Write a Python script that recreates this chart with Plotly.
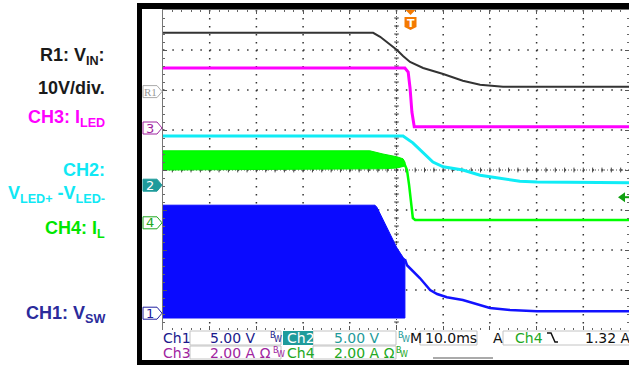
import plotly.graph_objects as go

# ---------------- data (time in ms, 10 ms/div; vertical in screen divisions) ----------------
r1_t = [-50, -5.0, -3.5, -1.4, 0.1, 1.4, 2.9, 5.7, 10.0, 14.2, 17.9, 22.8, 50]
r1_v = [3.43, 3.43, 3.33, 3.13, 3.0, 2.85, 2.7, 2.55, 2.4, 2.23, 2.13, 2.08, 2.08]

ch3_t = [-50, 1.8, 2.5, 2.9, 3.3, 3.8, 50]
ch3_v = [2.55, 2.55, 2.45, 2.05, 1.45, 1.08, 1.08]

ch2_t = [-50, 1.4, 3.5, 5.7, 7.8, 10.0, 14.2, 17.9, 21.5, 26.4, 30.1, 50]
ch2_v = [0.85, 0.85, 0.68, 0.43, 0.2, 0.08, 0.0, -0.13, -0.2, -0.28, -0.3, -0.32]

ch4_band_t = [-50, -5.7, -2.9, 0.1, 1.4, 1.8, 1.8, 0.1, -2.9, -50]
ch4_band_v = [0.48, 0.48, 0.4, 0.33, 0.28, 0.2, 0.1, 0.05, 0.03, 0.0]
ch4_t = [1.6, 2.25, 2.7, 3.1, 3.5, 4.0, 50]
ch4_v = [0.18, 0.0, -0.38, -0.88, -1.2, -1.25, -1.25]

ch1_block_t = [-50, -4.6, -4.2, -2.9, -1.4, 0.1, 1.4, 1.8, 1.8, -50]
ch1_block_v = [-0.88, -0.88, -0.93, -1.25, -1.58, -1.95, -2.18, -2.23, -3.7, -3.7]
ch1_t = [1.8, 2.25, 5.0, 7.2, 8.7, 10.8, 14.2, 17.2, 20.0, 24.3, 30.1, 50]
ch1_v = [-2.23, -2.38, -2.7, -3.0, -3.1, -3.18, -3.25, -3.35, -3.45, -3.5, -3.53, -3.53]

marker_names = ["R1", "3", "2", "4", "1"]
marker_levels = [1.96, 1.05, -0.38, -1.32, -3.58]
trigger_time = 3.0
trigger_level = -0.68

left_labels = ["R1: V<sub>IN</sub>:", "10V/div.", "CH3: I<sub>LED</sub>", "CH2:",
               "V<sub>LED+</sub> -V<sub>LED-</sub>", "CH4: I<sub>L</sub>", "CH1: V<sub>SW</sub>"]
left_label_levels = [2.85, 2.05, 1.3, 0.0, -0.6, -1.48, -3.6]
left_label_colors = ["#1a1a1a", "#1a1a1a", "#ff00ff", "#10e8f4", "#10e8f4", "#00e600", "#2b2b9b"]

# ---------------- geometry ----------------
W, H = 629, 365
L, R, T, B = 163, 629, 10, 330
XMIN = -50
XMAX = -50 + (R - L) * (100 / 467)


def px(x):
    return (x - L) / (R - L)


def py(y):
    return (B - y) / (B - T)


def dv(v):
    return (v + 4) / 8


fig = go.Figure()

fig.add_trace(go.Scatter(x=ch1_block_t, y=ch1_block_v, fill="toself", fillcolor="#0a0aff",
                         line=dict(color="#0a0aff", width=1), mode="lines", hoverinfo="skip"))
fig.add_trace(go.Scatter(x=ch1_t, y=ch1_v, mode="lines", line=dict(color="#1212ff", width=2.5)))
fig.add_trace(go.Scatter(x=ch4_band_t, y=ch4_band_v, fill="toself", fillcolor="#00ff00",
                         line=dict(color="#00f000", width=1), mode="lines"))
fig.add_trace(go.Scatter(x=ch4_t, y=ch4_v, mode="lines", line=dict(color="#00ff00", width=2.5)))
fig.add_trace(go.Scatter(x=ch2_t, y=ch2_v, mode="lines", line=dict(color="#10ecf6", width=3)))
fig.add_trace(go.Scatter(x=ch3_t, y=ch3_v, mode="lines", line=dict(color="#ff00ff", width=3)))
fig.add_trace(go.Scatter(x=r1_t, y=r1_v, mode="lines", line=dict(color="#333333", width=2)))

shapes = []
ann = []

# dotted graticule (drawn as shapes)
for i in range(1, 10):
    t = XMIN + i * 10
    shapes.append(dict(type="line", xref="x", yref="y", x0=t, x1=t, y0=4, y1=-4,
                       line=dict(color="#333", width=1.5, dash="1.5px,6.5px"), layer="below"))
for i in range(1, 8):
    v = 4 - i
    shapes.append(dict(type="line", xref="x", yref="y", x0=XMIN, x1=XMAX, y0=v, y1=v,
                       line=dict(color="#333", width=1.5, dash="1.5px,7.84px"), layer="below"))

# center axes (dense dotted with minor ticks)
shapes.append(dict(type="line", xref="x", yref="y", x0=XMIN, x1=XMAX, y0=0, y1=0,
                   line=dict(color="#555", width=1, dash="1px,2px"), layer="below"))
shapes.append(dict(type="line", xref="x", yref="y", x0=0, x1=0, y0=4, y1=-4,
                   line=dict(color="#555", width=1, dash="1px,2px"), layer="below"))
for i in range(-24, 25):
    t = i * 2
    shapes.append(dict(type="line", xref="x", yref="y", x0=t, x1=t, y0=-0.06, y1=0.06,
                       line=dict(color="#444", width=1), layer="below"))
for i in range(-19, 20):
    v = i * 0.2
    shapes.append(dict(type="line", xref="x", yref="y", x0=-0.5, x1=0.5, y0=v, y1=v,
                       line=dict(color="#444", width=1), layer="below"))

# scope frame (black bars)
def rect(x0, y0, x1, y1, fill, line=None, lw=0):
    return dict(type="rect", xref="paper", yref="paper", x0=px(x0), x1=px(x1), y0=py(y1), y1=py(y0),
                fillcolor=fill, line=dict(color=line or fill, width=lw))

shapes.append(rect(137, 3, 142, 365, "#000"))
shapes.append(rect(137, 3, 629, 9, "#000"))
shapes.append(rect(137, 360, 629, 365, "#000"))
shapes.append(rect(142, 330, 629, 360, "#fff"))

# channel markers on the left strip
marker_style = {"R1": ("#ffffff", "#aaaaaa", "#999999"),
                "3": ("#ffffff", "#a0259f", "#a0259f"),
                "2": ("#1f9b9b", "#1f9b9b", "#ffffff"),
                "4": ("#ffffff", "#22a822", "#22a822"),
                "1": ("#ffffff", "#2020a0", "#2020a0")}
for name, lev in zip(marker_names, marker_levels):
    yc = 170 - lev * 40
    fill, edge, tc = marker_style[name]
    path = "M{a},{b} L{c},{b} L{d},{e} L{c},{f} L{a},{f} Z".format(
        a=px(143), b=py(yc - 6), c=px(157), d=px(162), e=py(yc), f=py(yc + 6))
    shapes.append(dict(type="path", xref="paper", yref="paper", path=path,
                       fillcolor=fill, line=dict(color=edge, width=1)))
    ann.append(dict(x=px(150), y=py(yc), xref="paper", yref="paper", text=name, showarrow=False,
                    font=dict(family="Liberation Serif" if name == "R1" else "DejaVu Sans",
                              size=11 if name == "R1" else 13, color=tc),
                    xanchor="center", yanchor="middle"))

# trigger position marker (orange T)
tx = L + (trigger_time - XMIN) * 467 / 100
shapes.append(dict(type="path", xref="paper", yref="paper",
                   path="M{a},{y0} L{b},{y0} L{c},{y1} Z".format(a=px(tx - 5), b=px(tx + 5), c=px(tx),
                                                                y0=py(10), y1=py(15)),
                   fillcolor="#f47a00", line=dict(color="#f47a00", width=0)))
shapes.append(dict(type="path", xref="paper", yref="paper",
                   path="M{a},{y0} L{b},{y0} L{b},{y1} L{c},{y2} L{a},{y1} Z".format(
                       a=px(tx - 6), b=px(tx + 6), c=px(tx), y0=py(17), y1=py(27), y2=py(30)),
                   fillcolor="#f47a00", line=dict(color="#f47a00", width=0)))
ann.append(dict(x=px(tx), y=py(23), xref="paper", yref="paper", text="<b>T</b>", showarrow=False,
                font=dict(family="DejaVu Sans", size=11, color="#ffffff"), xanchor="center", yanchor="middle"))

# trigger level arrow (right edge)
ty = 170 - trigger_level * 40
shapes.append(dict(type="path", xref="paper", yref="paper",
                   path="M{a},{y} L{b},{y1} L{b},{y2} Z".format(a=px(618), b=px(625), y=py(ty),
                                                                 y1=py(ty - 5), y2=py(ty + 5)),
                   fillcolor="#10a010", line=dict(color="#10a010", width=0)))
shapes.append(dict(type="line", xref="paper", yref="paper", x0=px(624), x1=px(629), y0=py(ty), y1=py(ty),
                   line=dict(color="#10a010", width=2)))

# left-hand labels
for txt, lev, col in zip(left_labels, left_label_levels, left_label_colors):
    ann.append(dict(x=px(107), y=dv(lev), xref="paper", yref="paper", text="<b>" + txt + "</b>",
                    showarrow=False, font=dict(family="Liberation Sans", size=18, color=col),
                    xanchor="right", yanchor="middle"))

# bottom readout panel
NAVY, TEAL, PURP, GRN, BLK = "#1a1a8c", "#1f9b9b", "#a0259f", "#22a822", "#111111"
for (x0, y0, x1, y1) in [(190, 331, 281, 345), (313, 331, 396, 345), (420, 331, 477, 345),
                         (503, 331, 632, 345), (190, 346, 281, 359), (313, 346, 396, 359)]:
    shapes.append(rect(x0, y0, x1, y1, "rgba(0,0,0,0)", "#c4c4c4", 1))
shapes.append(rect(283, 331, 313, 345, TEAL))
shapes.append(dict(type="line", xref="paper", yref="paper", x0=px(433), x1=px(493), y0=py(358), y1=py(358),
                   line=dict(color="#aaaaaa", width=2)))
shapes.append(dict(type="path", xref="paper", yref="paper",
                   path="M{a},{y0} L{b},{y0} L{c},{y1} L{d},{y1}".format(a=px(547), b=px(551), c=px(555), d=px(558),
                                                                         y0=py(333), y1=py(342)),
                   line=dict(color=BLK, width=1.5)))

readout = [("Ch1", 161, 338, NAVY), ("5.00 V", 208, 338, NAVY), ("Ch2", 285, 338, "#ffffff"),
           ("5.00 V", 332, 338, TEAL), ("M", 408, 338, BLK), ("10.0ms", 423, 338, BLK),
           ("A", 491, 338, BLK), ("Ch4", 513, 338, GRN), ("1.32 A", 583, 338, BLK),
           ("Ch3", 161, 353, PURP), ("2.00 A Ω", 208, 353, PURP), ("Ch4", 285, 353, GRN),
           ("2.00 A Ω", 332, 353, GRN)]
for txt, x, y, col in readout:
    ann.append(dict(x=px(x), y=py(y), xref="paper", yref="paper", text=txt, showarrow=False,
                    font=dict(family="DejaVu Sans", size=14, color=col), xanchor="left", yanchor="middle"))
for x, y, col in [(268, 338, NAVY), (396, 338, TEAL), (271, 353, PURP), (394, 353, GRN)]:
    ann.append(dict(x=px(x), y=py(y - 3), xref="paper", yref="paper", text="B", showarrow=False,
                    font=dict(family="DejaVu Sans", size=8, color=col), xanchor="left", yanchor="middle"))
    ann.append(dict(x=px(x + 4), y=py(y + 1), xref="paper", yref="paper", text="W", showarrow=False,
                    font=dict(family="DejaVu Sans", size=8, color=col), xanchor="left", yanchor="middle"))

axis_common = dict(showticklabels=False, zeroline=False, showline=True, linecolor="#777", linewidth=1,
                   mirror="ticks", ticks="inside", ticklen=4, tickcolor="#555", fixedrange=True,
                   showgrid=False)

fig.update_layout(
    width=W, height=H,
    margin=dict(l=L, r=W - R, t=T, b=H - B, pad=0),
    paper_bgcolor="#ffffff", plot_bgcolor="#ffffff",
    showlegend=False,
    xaxis=dict(range=[XMIN, XMAX], dtick=10, tick0=-50,
               minor=dict(dtick=2, tick0=-50, ticks="inside", ticklen=2, tickcolor="#666", showgrid=False),
               **axis_common),
    yaxis=dict(range=[-4, 4], dtick=1, tick0=-4,
               minor=dict(dtick=0.2, tick0=-4, ticks="inside", ticklen=2, tickcolor="#666", showgrid=False),
               **axis_common),
    shapes=shapes,
    annotations=ann,
)

fig.write_html("out.html", config={"displayModeBar": False},
               post_script="document.body.style.margin='0px';document.body.style.overflow='hidden';")
